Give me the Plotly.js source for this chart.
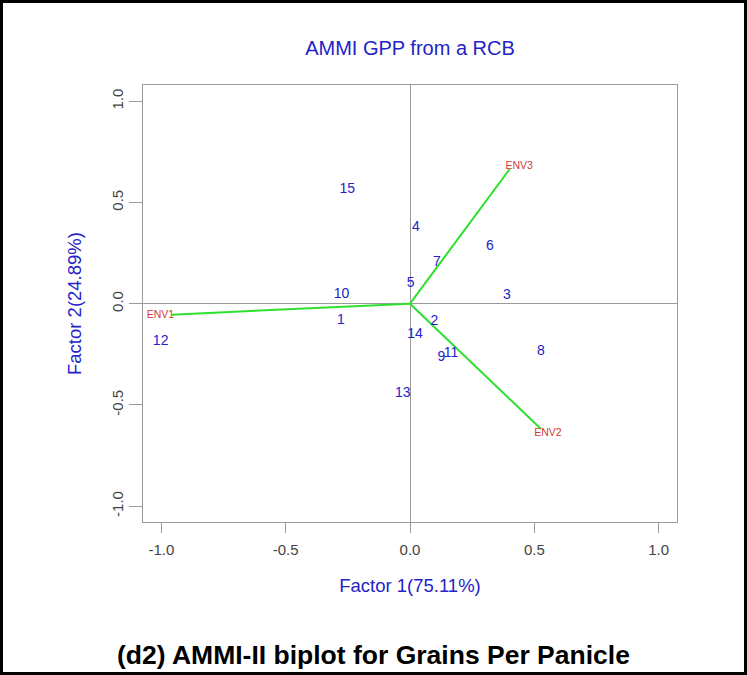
<!DOCTYPE html>
<html>
<head>
<meta charset="utf-8">
<script src="https://cdn.plot.ly/plotly-3.0.1.min.js"></script>
<style>
  html, body { margin: 0; padding: 0; background: #ffffff; }
  #wrap { position: relative; width: 747px; height: 675px; }
  #chart { width: 747px; height: 675px; }
  #frame { position: absolute; left: 0; top: 0; width: 747px; height: 675px;
           box-sizing: border-box; border: 3px solid #000; pointer-events: none; }
</style>
</head>
<body>
<div id="wrap">
  <div id="chart"></div>
  <div id="frame"></div>
</div>
<script>
// Genotype scores (PC1, PC2)
const genotypes = ['1','2','3','4','5','6','7','8','9','10','11','12','13','14','15'];
const genoPC1 = [-0.278, 0.098, 0.390, 0.024, 0.003, 0.321, 0.108, 0.527, 0.126, -0.275, 0.165, -1.003, -0.029, 0.020, -0.252];
const genoPC2 = [-0.084, -0.089, 0.041, 0.377, 0.099, 0.283, 0.203, -0.235, -0.268, 0.044, -0.244, -0.186, -0.444, -0.153, 0.563];

// Environment vectors (arrow ends) and label positions
const environments = ['ENV1', 'ENV2', 'ENV3'];
const envPC1 = [-0.958, 0.527, 0.401];
const envPC2 = [-0.054, -0.619, 0.665];
const envLabelPC1 = [-1.004, 0.555, 0.439];
const envLabelPC2 = [-0.059, -0.639, 0.678];

// Tick labels
const tickVals = [-1, -0.5, 0, 0.5, 1];
const tickText = ['-1.0', '-0.5', '0.0', '0.5', '1.0'];

const BLUE = '#2323c8';
const FONT = 'Arial, Liberation Sans, sans-serif';
const traces = [];

environments.forEach((e, i) => {
  traces.push({
    type: 'scatter', mode: 'lines',
    x: [0, envPC1[i]], y: [0, envPC2[i]],
    line: { color: '#2ee02e', width: 2 },
    hoverinfo: 'skip', showlegend: false
  });
});

traces.push({
  type: 'scatter', mode: 'text',
  x: envLabelPC1, y: envLabelPC2, text: environments,
  textposition: 'middle center',
  textfont: { family: FONT, size: 10.5, color: '#d03a3a' },
  showlegend: false
});

traces.push({
  type: 'scatter', mode: 'text',
  x: genoPC1, y: genoPC2, text: genotypes,
  textposition: 'middle center',
  textfont: { family: FONT, size: 14, color: BLUE },
  showlegend: false
});

const axisCommon = {
  showgrid: false,
  zeroline: true, zerolinecolor: '#9a9a9a', zerolinewidth: 1,
  showline: true, mirror: true, linecolor: '#9a9a9a', linewidth: 1,
  ticks: 'outside', tickcolor: '#9a9a9a', tickwidth: 1,
  tickvals: tickVals, ticktext: tickText,
  tickfont: { family: FONT, size: 15, color: '#444444' },
  fixedrange: true
};

const layout = {
  width: 747, height: 675,
  margin: { l: 143, r: 70, t: 85, b: 153 },
  paper_bgcolor: '#ffffff', plot_bgcolor: '#ffffff',
  showlegend: false,
  title: {
    text: 'AMMI GPP from a RCB',
    font: { family: FONT, size: 20, color: BLUE },
    xref: 'paper', x: 0.5, xanchor: 'center',
    yref: 'container', y: 1 - 48/675, yanchor: 'middle'
  },
  xaxis: Object.assign({}, axisCommon, {
    range: [-1.074, 1.074],
    ticklen: 10,
    ticklabelstandoff: 4,
    title: { text: 'Factor 1(75.11%)', standoff: 22,
             font: { family: FONT, size: 18.5, color: BLUE } }
  }),
  yaxis: Object.assign({}, axisCommon, {
    range: [-1.078, 1.08],
    ticklen: 13,
    tickangle: -90,
    title: { text: 'Factor 2(24.89%)', standoff: 22,
             font: { family: FONT, size: 18.5, color: BLUE } }
  }),
  annotations: [{
    text: '<b>(d2) AMMI-II biplot for Grains Per Panicle</b>',
    xref: 'paper', yref: 'paper', x: (373 - 143) / 534, y: (522 - 655) / 437,
    xanchor: 'center', yanchor: 'middle', showarrow: false,
    font: { family: FONT, size: 26.5, color: '#000000' }
  }]
};

Plotly.newPlot('chart', traces, layout, { staticPlot: true, displayModeBar: false });
</script>
</body>
</html>
